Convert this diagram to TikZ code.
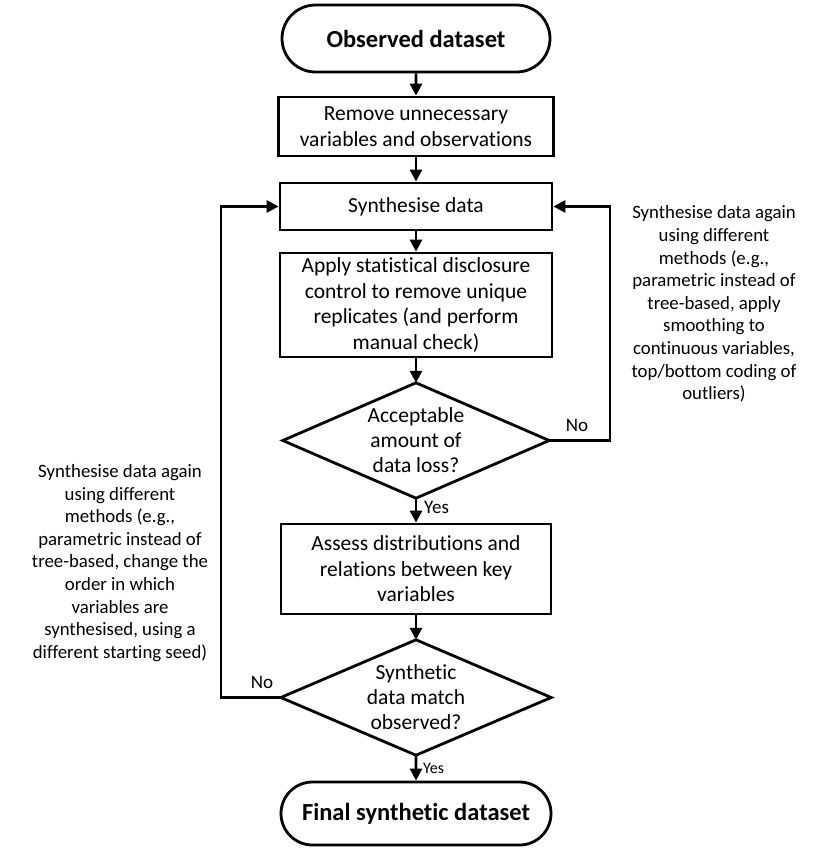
\documentclass[tikz,border=0pt]{standalone}
\usepackage{fontspec}
\setmainfont{Carlito}[Ligatures=NoCommon]
\usetikzlibrary{shapes.misc,arrows.meta}
\begin{document}
\begin{tikzpicture}[x=1pt,y=-1pt,
  every node/.style={align=center, inner sep=0pt},
  proc/.style={draw, line width=2.8pt, rectangle, font=\fontsize{21.5}{25.5}\selectfont},
  term/.style={draw, line width=2.8pt, rounded rectangle, font=\bfseries\fontsize{24.5}{28}\selectfont},
  dec/.style={rectangle, font=\fontsize{21.5}{25}\selectfont},
  note/.style={font=\fontsize{18.8}{22.6}\selectfont},
  lbl/.style={font=\fontsize{19}{22}\selectfont},
  conn/.style={line width=2.8pt, -{Triangle[length=12pt,width=12pt]}},
  diaedge/.style={line width=2.8pt, line join=miter},
]
\useasboundingbox (0,0) rectangle (839,852);
\fill[white] (0,0) rectangle (839,852);

\node[term, minimum width=268pt, minimum height=67pt] (obs) at (416,38.5) {Observed dataset};
\node[proc, minimum width=275pt, minimum height=59pt] (rem) at (416,126.5) {Remove unnecessary\\variables and observations};
\node[proc, minimum width=272pt, minimum height=47pt] (syn) at (416,206.5) {Synthesise data};
\node[proc, minimum width=272pt, minimum height=104pt] (app) at (416,305) {Apply statistical disclosure\\control to remove unique\\replicates (and perform\\manual check)};
\node[dec, minimum width=266pt, minimum height=115pt] (d1) at (416,440.5) {Acceptable\\amount of\\data loss?};
\node[proc, minimum width=270pt, minimum height=90pt] (ass) at (416,569) {Assess distributions and\\relations between key\\variables};
\node[dec, minimum width=270pt, minimum height=115pt] (d2) at (416,697.5) {Synthetic\\data match\\observed?};
\node[term, minimum width=270pt, minimum height=63pt] (fin) at (416,813.5) {Final synthetic dataset};

\draw[diaedge] (d1.west) -- (d1.north) -- (d1.east) -- (d1.south) -- cycle;
\draw[diaedge] (d2.west) -- (d2.north) -- (d2.east) -- (d2.south) -- cycle;

\coordinate (rr) at (610,0);
\coordinate (ll) at (221,0);

\draw[conn] (obs) -- (rem);
\draw[conn] (rem) -- (syn);
\draw[conn] (syn) -- (app);
\draw[conn] (app) -- (d1.north);
\draw[conn] (d1.south) -- (ass);
\draw[conn] (ass) -- (d2.north);
\draw[conn] (d2.south) -- (fin);
\draw[conn] (d1.east) -- (d1.east -| rr) |- (syn.east);
\draw[conn] (d2.west) -- (d2.west -| ll) |- (syn.west);

\node[lbl] (no1) at (577,425) {No};
\node[lbl, anchor=west] (yes1) at (424,507) {Yes};
\node[lbl] (no2) at (262,682) {No};
\node[lbl, anchor=west, font=\fontsize{16}{19}\selectfont] (yes2) at (423,768) {Yes};

\node[note] (n1) at (714,304) {Synthesise data again\\using different\\methods (e.g.,\\parametric instead of\\tree-based, apply\\smoothing to\\continuous variables,\\top/bottom coding of\\outliers)};
\node[note] (n2) at (120,563) {Synthesise data again\\using different\\methods (e.g.,\\parametric instead of\\tree-based, change the\\order in which\\variables are\\synthesised, using a\\different starting seed)};
\end{tikzpicture}
\end{document}
